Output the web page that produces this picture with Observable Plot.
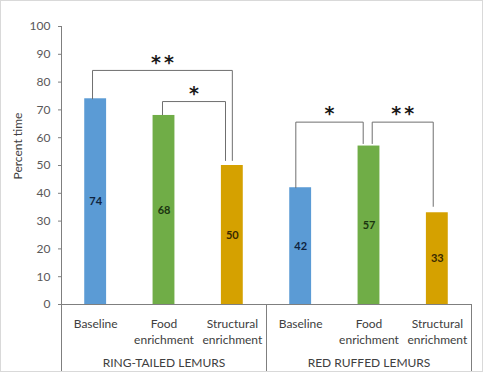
<!DOCTYPE html>
<html><head><meta charset="utf-8">
<script src="https://cdn.jsdelivr.net/npm/d3@7"></script>
<script src="https://cdn.jsdelivr.net/npm/@observablehq/plot@0.6"></script>
<style>
html,body{margin:0;padding:0;background:#fff;}
#wrap{position:relative;width:483px;height:372px;overflow:hidden;}
#wrap:after{content:"";position:absolute;left:0;top:0;width:483px;height:372px;box-sizing:border-box;border:1px solid #d9d9d9;pointer-events:none;}
svg{display:block;}
svg g[font-size="19"] text{letter-spacing:3px;}
</style></head><body><div id="wrap"></div>
<script>
// ---- data ----
const species = ["RING-TAILED LEMURS", "RED RUFFED LEMURS"];
const conditions = ["Baseline", "Food\nenrichment", "Structural\nenrichment"];
const ringTailed = [74, 68, 50];
const redRuffed = [42, 57, 33];
const yTicks = [0, 10, 20, 30, 40, 50, 60, 70, 80, 90, 100];
const yLabel = "Percent time";
// significance brackets: species index, from/to condition, bracket level, leg end values, label
const brackets = [
  {species: 0, from: 0, to: 2, level: 84.2, leftEnd: 74, rightEnd: 51.8, label: "**"},
  {species: 0, from: 1, to: 2, level: 73.0, leftEnd: 68.3, rightEnd: 51.8, label: "*"},
  {species: 1, from: 0, to: 1, level: 65.6, leftEnd: 42, rightEnd: 57.9, label: "*"},
  {species: 1, from: 1, to: 2, level: 65.6, leftEnd: 57.9, rightEnd: 35.3, label: "**"}
];

// ---- styles ----
const barColors = ["#5b9bd5", "#70ad47", "#d5a100"];
const valueColors = ["#0f2440", "#1b3510", "#3a2a00"];
const legNudge = [[-0.046, 0], [-0.022, -0.1], [-0.071, -0.085], [0.047, -0.06]];
const barHalf = 0.16;
const font = "Lato, 'Liberation Sans', sans-serif";

const seriesValues = [ringTailed, redRuffed];
const rows = [];
species.forEach((sp, s) => conditions.forEach((c, k) => rows.push({
  i: s * 3 + k, k, species: sp, condition: c, value: seriesValues[s][k]
})));

const legs = [];
brackets.forEach((b, j) => {
  const xl = b.species * 3 + b.from + 0.5 + legNudge[j][0];
  const xr = b.species * 3 + b.to + 0.5 + legNudge[j][1];
  legs.push({j, x: xl, y: b.leftEnd}, {j, x: xl, y: b.level}, {j, x: xr, y: b.level}, {j, x: xr, y: b.rightEnd});
  b.xm = (xl + xr) / 2;
});

const chart = Plot.plot({
  width: 483, height: 372,
  marginLeft: 61, marginRight: 12, marginTop: 26, marginBottom: 68,
  style: {fontFamily: font, background: "transparent", overflow: "visible"},
  x: {type: "linear", domain: [0, 6], axis: null},
  y: {domain: [0, 100], axis: null},
  marks: [
    Plot.rectY(rows, {x1: d => d.i + 0.5 - barHalf, x2: d => d.i + 0.5 + barHalf, y: "value", fill: d => barColors[d.k]}),
    Plot.text(rows, {x: d => d.i + 0.5, y: d => d.value / 2, text: d => String(d.value), fill: d => valueColors[d.k], fontWeight: "bold", fontSize: 11}),
    Plot.line(legs, {x: "x", y: "y", z: "j", stroke: "#6f6f6f", strokeWidth: 1, curve: "linear"}),
    Plot.text(brackets, {x: "xm", y: "level", text: "label", fontSize: 19, fontWeight: "bold", fill: "#1a1a1a", dy: -8, dx: 1.5, fontFamily: "'DejaVu Sans', sans-serif"}),
    Plot.axisY({ticks: yTicks, tickSize: 3, tickPadding: 8, label: null, fontSize: 12, fill: "#595959", stroke: "#7f7f7f"}),
    Plot.ruleX([0], {stroke: "#7f7f7f", insetBottom: -68}),
    Plot.ruleY([0], {x1: 0, x2: 6, stroke: "#7f7f7f"}),
    Plot.ruleX([3, 6], {y1: 0, y2: 0, stroke: "#7f7f7f", insetBottom: -68}),
    Plot.text(rows, {x: d => d.i + 0.5, y: 0, text: "condition", lineAnchor: "top", dy: 12.5, lineHeight: 1.31, fontSize: 12, fill: "#404040"}),
    Plot.text(species, {x: (d, i) => i * 3 + 1.5, y: 0, text: d => d, lineAnchor: "top", dy: 53.5, fontSize: 12, fill: "#404040"}),
    Plot.text([yLabel], {frameAnchor: "left", text: d => d, rotate: -90, dx: -43, dy: 14, fontSize: 12, fill: "#404040"})
  ]
});
document.getElementById("wrap").appendChild(chart);
</script>
</body></html>
